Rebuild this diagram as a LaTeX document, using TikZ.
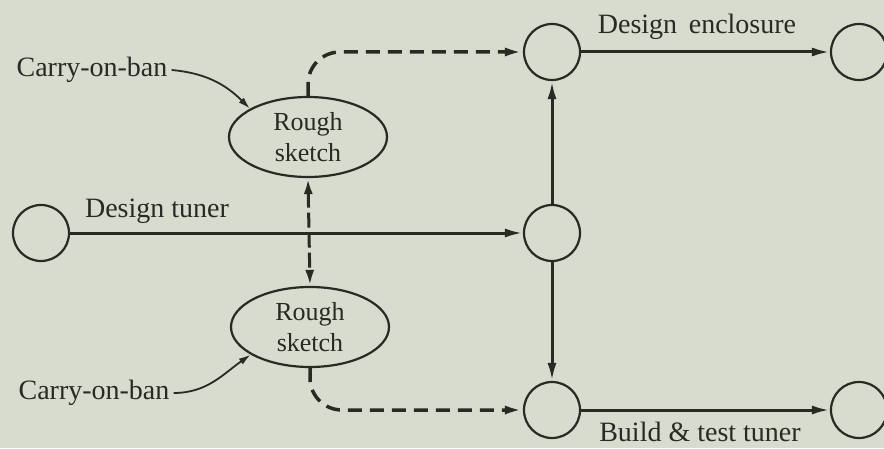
\documentclass[tikz,border=0pt]{standalone}
\usepackage{fontspec}
\setmainfont{Liberation Serif}
\usetikzlibrary{arrows.meta,shapes.geometric}
\definecolor{paper}{RGB}{216,220,206}
\definecolor{ink}{RGB}{40,42,36}
\begin{document}
\begin{tikzpicture}[x=1pt,y=1pt,
  every node/.style={font=\fontsize{28}{31}\selectfont, text=ink},
  event/.style={circle, draw=ink, line width=2.2pt, minimum size=56pt, inner sep=0pt},
  sketchnode/.style={ellipse, draw=ink, line width=2.2pt, minimum width=158pt, minimum height=80pt, inner sep=0pt, align=center, font=\fontsize{26}{31}\selectfont},
  task/.style={draw=ink, line width=3pt, -{Latex[length=18pt,width=9pt]}},
  dummy/.style={draw=ink, line width=3.5pt, dash pattern=on 14pt off 8pt, -{Latex[length=18pt,width=9pt]}, rounded corners=32pt},
  link/.style={draw=ink, line width=3pt, dash pattern=on 15pt off 5pt, {Latex[length=16pt,width=9pt]}-{Latex[length=16pt,width=9pt]}},
  feed/.style={draw=ink, line width=1.8pt, -{Latex[length=12pt,width=7pt]}},
  lbl/.style={inner sep=0pt}
]
\fill[paper] (0,0) rectangle (884,448);
\useasboundingbox (0,0) rectangle (884,448);

\node[event] (c0) at (41,215) {};
\node[event] (cT) at (552,396) {};
\node[event] (cM) at (552,215) {};
\node[event] (cB) at (552,38) {};
\node[event] (rT) at (859,396) {};
\node[event] (rB) at (859,38) {};

\node[sketchnode] (rs1) at (308,311) {Rough\\sketch};
\node[sketchnode] (rs2) at (310,121) {Rough\\sketch};

\node[lbl] (cob1) at (92,378) {Carry-on-ban};
\node[lbl] (cob2) at (94,55) {Carry-on-ban};
\node[lbl] (dt) at (157,237) {Design tuner};
\node[lbl] (de) at (697,421) {Design\ \,enclosure};
\node[lbl] (bt) at (700,16) {Build \& test tuner};

\draw[task] (c0) -- (cM);
\draw[task] (cM) -- (cT);
\draw[task] (cM) -- (cB);
\draw[task] (cT) -- (rT);
\draw[task] (cB) -- (rB);

\draw[dummy] (rs1.north) |- (cT.west);
\draw[dummy] (rs2.south) |- (cB.west);
\draw[link] (rs1.south) -- (rs2.north);

\draw[feed] ([xshift=4pt]cob1.east) to[out=-5,in=135] (rs1.154);
\draw[feed] ([xshift=4pt]cob2.east) to[out=0,in=215] (rs2.205);
\end{tikzpicture}
\end{document}
